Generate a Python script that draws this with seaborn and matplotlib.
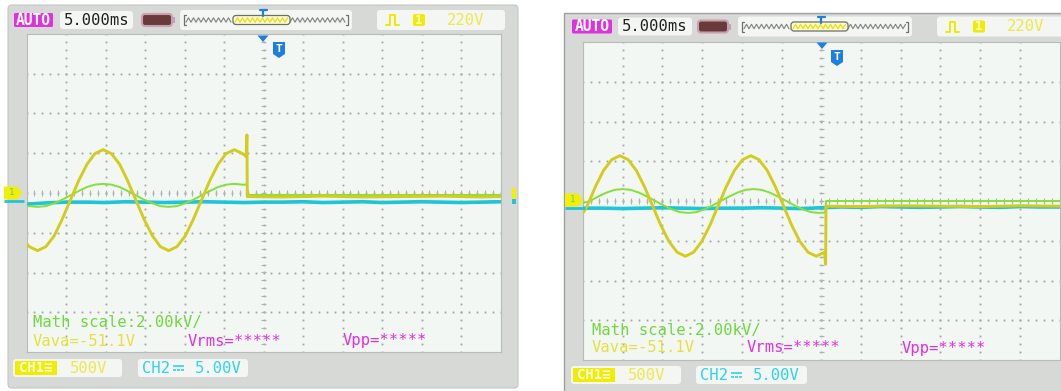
import numpy as np
import pandas as pd
import matplotlib
matplotlib.use("Agg")
import matplotlib.pyplot as plt
import seaborn as sns
from matplotlib.patches import FancyBboxPatch, Rectangle, Polygon

sns.set_theme(style="white")
plt.rcParams['font.family'] = ['DejaVu Sans Mono', 'DejaVu Sans']

W, H = 1061, 391

# ---------------- data (screen divisions: x 0..12, y -4..4) ----------------
left_yellow_x = [0.00, 0.07, 0.28, 0.49, 0.70, 0.90, 1.11, 1.32, 1.53, 1.73, 1.94, 2.15, 2.36,
                 2.56, 2.77, 2.98, 3.19, 3.39, 3.60, 3.81, 4.02, 4.22, 4.43, 4.64, 4.85, 5.05,
                 5.26, 5.47, 5.56, 5.58, 5.59, 6.5, 7.5, 8.5, 9.5, 10.5, 11.5, 12.0]
left_yellow_y = [-1.27, -1.35, -1.45, -1.35, -1.08, -0.67, -0.18, 0.31, 0.72, 0.99, 1.09, 0.99, 0.72,
                 0.31, -0.18, -0.67, -1.08, -1.35, -1.45, -1.35, -1.08, -0.67, -0.18, 0.31, 0.72, 0.99,
                 1.09, 0.99, 0.92, 1.46, -0.09, -0.10, -0.08, -0.10, -0.09, -0.08, -0.10, -0.09]

left_green_x = [0.00, 0.07, 0.28, 0.49, 0.70, 0.90, 1.11, 1.32, 1.53, 1.73, 1.94, 2.15, 2.36,
                2.56, 2.77, 2.98, 3.19, 3.39, 3.60, 3.81, 4.02, 4.22, 4.43, 4.64, 4.85, 5.05,
                5.26, 5.47, 5.56, 5.58, 5.59, 12.0]
left_green_y = [-0.33, -0.33, -0.35, -0.33, -0.26, -0.17, -0.06, 0.05, 0.15, 0.21, 0.23, 0.21, 0.15,
                0.05, -0.06, -0.17, -0.26, -0.33, -0.35, -0.33, -0.26, -0.17, -0.06, 0.05, 0.15, 0.21,
                0.23, 0.21, 0.21, 0.24, -0.05, -0.05]

left_cyan_x = [0.0, 0.5, 1.0, 1.5, 2.0, 2.5, 3.0, 3.5, 4.0, 4.5, 5.0, 5.5, 6.0,
               6.5, 7.0, 7.5, 8.0, 8.5, 9.0, 9.5, 10.0, 10.5, 11.0, 11.5, 12.0]
left_cyan_y = [-0.28, -0.25, -0.23, -0.23, -0.24, -0.22, -0.23, -0.24, -0.23, -0.22, -0.23, -0.24, -0.23,
               -0.23, -0.22, -0.24, -0.23, -0.22, -0.24, -0.23, -0.22, -0.23, -0.24, -0.23, -0.22]

right_yellow_x = [0.00, 0.106, 0.312, 0.518, 0.724, 0.930, 1.136, 1.342, 1.548, 1.754, 1.960, 2.166,
                  2.372, 2.578, 2.784, 2.990, 3.196, 3.402, 3.608, 3.814, 4.020, 4.226, 4.432, 4.638,
                  4.844, 5.050, 5.256, 5.462, 5.668, 5.874, 6.080, 6.11, 6.12,
                  7.0, 8.0, 9.0, 10.0, 11.0, 12.0]
right_yellow_y = [-0.30, -0.125, 0.36, 0.77, 1.04, 1.14, 1.04, 0.77, 0.36, -0.125, -0.61, -1.02,
                  -1.29, -1.39, -1.29, -1.02, -0.61, -0.125, 0.36, 0.77, 1.04, 1.14, 1.04, 0.77,
                  0.36, -0.125, -0.61, -1.02, -1.29, -1.39, -1.29, -1.59, -0.13,
                  -0.14, -0.12, -0.13, -0.14, -0.12, -0.13]

right_green_x = [0.00, 0.176, 0.382, 0.588, 0.794, 1.000, 1.206, 1.412, 1.618, 1.824, 2.030, 2.236,
                 2.442, 2.648, 2.854, 3.060, 3.266, 3.472, 3.678, 3.884, 4.090, 4.296, 4.502, 4.708,
                 4.914, 5.120, 5.326, 5.532, 5.738, 5.944, 6.10, 6.12, 12.0]
right_green_y = [-0.05, 0.00, 0.11, 0.21, 0.28, 0.30, 0.28, 0.21, 0.11, 0.00, -0.11, -0.21,
                 -0.28, -0.30, -0.28, -0.21, -0.11, 0.00, 0.11, 0.21, 0.28, 0.30, 0.28, 0.21,
                 0.11, 0.00, -0.11, -0.21, -0.28, -0.30, -0.29, 0.00, 0.00]

right_cyan_x = [0.0, 0.5, 1.0, 1.5, 2.0, 2.5, 3.0, 3.5, 4.0, 4.5, 5.0, 5.5, 6.0,
                6.5, 7.0, 7.5, 8.0, 8.5, 9.0, 9.5, 10.0, 10.5, 11.0, 11.5, 12.0]
right_cyan_y = [-0.18, -0.18, -0.19, -0.18, -0.17, -0.18, -0.19, -0.18, -0.18, -0.17, -0.18, -0.19, -0.17,
                -0.15, -0.16, -0.14, -0.15, -0.16, -0.15, -0.14, -0.15, -0.16, -0.14, -0.15, -0.15]

# readout texts
timebase = "5.000ms"
trig_level = "220V"
math_text = "Math scale:2.00kV/"
vavg_text = "Vava=-51.1V"
vrms_text = "Vrms=*****"
vpp_text = "Vpp=*****"
ch1_scale = "500V"
ch2_scale = "5.00V"

# colours
C_YEL = '#d4cc1c'
C_GRN = '#84e03a'
C_CYN = '#1ec4d8'
C_FRAME = '#d6d9d6'
C_BOX = '#f3f6f3'
C_GRID_BG = '#f3f7f3'
C_DOT = '#a2a6a2'
C_MAG = '#e030e0'
C_BLUE = '#1f7fe0'
C_CH2 = '#2cd4ee'

fig = plt.figure(figsize=(W / 100, H / 100), dpi=100)
fig.patch.set_facecolor('white')


def px_rect(x0, y0, x1, y1):
    return [x0 / W, 1 - y1 / H, (x1 - x0) / W, (y1 - y0) / H]


bg = fig.add_axes([0, 0, 1, 1], zorder=0)
bg.set_xlim(0, W); bg.set_ylim(H, 0); bg.axis('off')
fg = fig.add_axes([0, 0, 1, 1], zorder=5)
fg.set_xlim(0, W); fg.set_ylim(H, 0); fg.axis('off'); fg.patch.set_alpha(0)


def rbox(ax, x0, y0, x1, y1, fc, ec='none', lw=0.8, r=3, z=1):
    p = FancyBboxPatch((x0, y0), x1 - x0, y1 - y0,
                       boxstyle=f"round,pad=0,rounding_size={r}",
                       fc=fc, ec=ec, lw=lw, zorder=z)
    ax.add_patch(p)


def zigzag(ax, xa, xb, yc, amp, color, lw=0.8):
    xs = np.arange(xa, xb + 0.01, 2.5)
    ys = yc + np.where(np.arange(len(xs)) % 2 == 0, amp, -amp)
    ax.plot(xs, ys, color=color, lw=lw, zorder=3)


def draw_grid(ax):
    ax.set_facecolor(C_GRID_BG)
    fine_x = np.arange(0, 12.001, 0.2)
    fine_y = np.arange(-4, 4.001, 0.2)
    for gx in range(1, 12):
        ax.plot(np.full_like(fine_y, gx), fine_y, ls='none', marker='s', ms=1.3,
                mew=0, color=C_DOT, zorder=1)
    for gy in range(-3, 4):
        ax.plot(fine_x, np.full_like(fine_x, gy), ls='none', marker='s', ms=1.3,
                mew=0, color=C_DOT, zorder=1)
    ax.vlines(fine_x, -0.07, 0.07, color='#b0b4b0', lw=0.8, zorder=1)
    ax.hlines(fine_y, 6 - 0.06, 6 + 0.06, color='#b0b4b0', lw=0.8, zorder=1)
    for s in ax.spines.values():
        s.set_color('#b8bcb8'); s.set_linewidth(0.8)


def trace(ax, xs, ys, color, lw, z):
    df = pd.DataFrame({'x': xs, 'y': ys})
    sns.lineplot(data=df, x='x', y='y', ax=ax, color=color, linewidth=lw,
                 sort=False, estimator=None, zorder=z)


def panel(grid, yel, grn, cyn):
    gx0, gy0, gx1, gy1 = grid
    ax = fig.add_axes(px_rect(gx0, gy0, gx1, gy1), zorder=2)
    draw_grid(ax)
    trace(ax, *cyn, C_CYN, 2.6, 3)
    trace(ax, *grn, C_GRN, 1.4, 4)
    trace(ax, *yel, C_YEL, 2.1, 5)
    ax.set_xlim(0, 12); ax.set_ylim(-4, 4)
    ax.set_xticks([]); ax.set_yticks([])
    ax.set_xlabel(''); ax.set_ylabel('')
    return ax


# ---------------- frames ----------------
rbox(bg, 8, 5, 518, 388, C_FRAME, ec='#c4c8c4', r=4, z=0)
bg.add_patch(Rectangle((564, 13), 520, 390, fc=C_FRAME, ec='#9ea29e', lw=1.0, zorder=0))

L_GRID = (26.5, 34, 500.5, 352)
R_GRID = (583, 42, 1059.5, 360)

panel(L_GRID, (left_yellow_x, left_yellow_y), (left_green_x, left_green_y),
      (left_cyan_x, left_cyan_y))
panel(R_GRID, (right_yellow_x, right_yellow_y), (right_green_x, right_green_y),
      (right_cyan_x, right_cyan_y))

FS = 11.2


def header(dy, auto, tb, batt, win, rb):
    x0, x1 = auto
    rbox(fg, x0, 13 + dy, x1, 27 + dy, C_MAG, r=1.5, z=2)
    fg.text((x0 + x1) / 2, 20.3 + dy, "AUTO", color='white', fontsize=10.5, fontweight='bold',
            ha='center', va='center', zorder=3)
    x0, x1 = tb
    rbox(fg, x0, 11 + dy, x1, 29 + dy, C_BOX, r=3, z=2)
    fg.text((x0 + x1) / 2, 20.3 + dy, timebase, color='#202020', fontsize=FS,
            ha='center', va='center', zorder=3)
    x0, x1 = batt
    rbox(fg, x0, 14 + dy, x1 - 3, 26 + dy, '#6a3a3a', ec='#c8a0b0', lw=1.5, r=3, z=2)
    fg.add_patch(Rectangle((x1 - 3, 17 + dy), 3, 6, fc='#c8a0b0', ec='none', zorder=2))
    x0, x1 = win
    rbox(fg, x0, 10 + dy, x1, 30 + dy, C_BOX, r=3, z=2)
    fg.plot([x0 + 6, x0 + 4, x0 + 4, x0 + 6], [15 + dy, 15 + dy, 25 + dy, 25 + dy],
            color='#707070', lw=0.9, zorder=3)
    fg.plot([x1 - 6, x1 - 4, x1 - 4, x1 - 6], [15 + dy, 15 + dy, 25 + dy, 25 + dy],
            color='#707070', lw=0.9, zorder=3)
    wl, wr = x0 + 53, x0 + 110
    zigzag(fg, x0 + 6, wl, 20 + dy, 2.2, '#808080')
    zigzag(fg, wr, x1 - 6, 20 + dy, 2.2, '#808080')
    fg.add_patch(FancyBboxPatch((wl, 15.5 + dy), wr - wl, 9, boxstyle="round,pad=0,rounding_size=3",
                                fc='#fafae0', ec='#6e6e60', lw=0.9, zorder=3))
    zigzag(fg, wl + 2, wr - 2, 20 + dy, 2.2, '#e8e000', lw=0.9)
    tx = x0 + 83
    fg.plot([tx - 3.5, tx + 3.5], [10 + dy, 10 + dy], color=C_BLUE, lw=1.6, zorder=4)
    fg.plot([tx, tx], [10 + dy, 16 + dy], color=C_BLUE, lw=1.6, zorder=4)
    x0, x1 = rb
    rbox(fg, x0, 10 + dy, x1, 30 + dy, C_BOX, r=3, z=2)
    px = x0 + 9
    fg.plot([px, px + 4, px + 4, px + 9, px + 9, px + 13],
            [25 + dy, 25 + dy, 15 + dy, 15 + dy, 25 + dy, 25 + dy], color='#f0e800', lw=1.4, zorder=3)
    rbox(fg, x0 + 36, 14 + dy, x0 + 48, 26 + dy, '#f2ea00', r=2, z=3)
    fg.text(x0 + 42, 20.3 + dy, "1", color='#fffbc8', fontsize=9, fontweight='bold',
            ha='center', va='center', zorder=4)
    fg.text(x0 + 70, 20.3 + dy, trig_level, color='#eee84a', fontsize=FS,
            ha='left', va='center', zorder=3)


header(0, (14, 53), (60, 133), (142, 175), (180, 352), (377, 505))
header(6.5, (572, 612), (618, 692), (698, 731), (738, 912), (937, 1075))


def trig_marks(tri_x, tri_y, t_x, t_y):
    fg.add_patch(Polygon([(tri_x - 5.5, tri_y), (tri_x + 5.5, tri_y), (tri_x, tri_y + 6.5)],
                         closed=True, fc=C_BLUE, ec='none', zorder=4))
    fg.add_patch(Polygon([(t_x - 6, t_y - 8), (t_x + 6, t_y - 8), (t_x + 6, t_y + 4),
                          (t_x, t_y + 8), (t_x - 6, t_y + 4)],
                         closed=True, fc=C_BLUE, ec='none', zorder=4))
    fg.text(t_x, t_y - 1.5, "T", color='white', fontsize=8, fontweight='bold',
            ha='center', va='center', zorder=5)


trig_marks(263, 35.5, 279, 50)
trig_marks(822, 42.5, 837, 58)


def ch_marker(x0, yc):
    fg.add_patch(Polygon([(x0, yc - 6.5), (x0 + 13, yc - 6.5), (x0 + 18, yc), (x0 + 13, yc + 6.5),
                          (x0, yc + 6.5)], closed=True, fc='#f2f000', ec='none', zorder=4))
    fg.text(x0 + 7.5, yc - 0.5, "1", color='#5cc8a0', fontsize=6.5, ha='center', va='center', zorder=5)
    fg.plot([x0, x0 + 20], [yc + 8, yc + 8], color=C_CYN, lw=2.0, zorder=4, solid_capstyle='butt')


ch_marker(4, 193)
ch_marker(565, 200)
fg.add_patch(Rectangle((512, 188), 4, 11, fc='#f2f000', ec='none', zorder=4))
fg.add_patch(Rectangle((512, 199), 4, 5, fc=C_CYN, ec='none', zorder=4))


def readouts(x_m, y_m, y_v, x_rms, x_pp):
    fg.text(x_m, y_m, math_text, color='#6ed83e', fontsize=FS, ha='left', va='center', zorder=6)
    fg.text(x_m, y_v, vavg_text, color='#e6e03c', fontsize=FS, ha='left', va='center', zorder=6)
    fg.text(x_rms, y_v, vrms_text, color=C_MAG, fontsize=FS, ha='left', va='center', zorder=6)
    fg.text(x_pp, y_v, vpp_text, color=C_MAG, fontsize=FS, ha='left', va='center', zorder=6)


readouts(33, 323, 341, 188, 343)
readouts(592, 331, 348, 747, 902)


def dc_symbol(x, yc):
    # DC coupling sign (solid line over dashed line); no installed font has U+2393
    fg.plot([x, x + 11], [yc - 2, yc - 2], color=C_CH2, lw=1.2, zorder=4, solid_capstyle='butt')
    for k in range(3):
        fg.plot([x + k * 4, x + k * 4 + 2.6], [yc + 1.8, yc + 1.8], color=C_CH2, lw=1.2,
                zorder=4, solid_capstyle='butt')


def ch_boxes(b1, b2, y0, y1, x500, xch2, x5):
    yc = (y0 + y1) / 2
    rbox(fg, b1[0], y0, b1[1], y1, C_BOX, r=3, z=2)
    fg.add_patch(Rectangle((b1[0] + 2, y0 + 2), 42, y1 - y0 - 4, fc='#f2ec00', ec='none', zorder=3))
    fg.text(b1[0] + 23, yc + 0.3, "CH1≡", color='#fffde0', fontsize=10, fontweight='bold',
            ha='center', va='center', zorder=4)
    fg.text(x500, yc + 0.3, ch1_scale, color='#eee84a', fontsize=FS,
            ha='left', va='center', zorder=4)
    rbox(fg, b2[0], y0, b2[1], y1, C_BOX, r=3, z=2)
    fg.text(xch2, yc + 0.3, "CH2", color=C_CH2, fontsize=FS,
            ha='left', va='center', zorder=4)
    dc_symbol(xch2 + 31, yc)
    fg.text(x5, yc + 0.3, ch2_scale, color=C_CH2, fontsize=FS,
            ha='left', va='center', zorder=4)


ch_boxes((13, 122), (138, 248), 359, 377, 70, 142, 195)
ch_boxes((571, 681), (696, 807), 366, 384, 628, 700, 753)

fig.savefig("out.png", dpi=100)
